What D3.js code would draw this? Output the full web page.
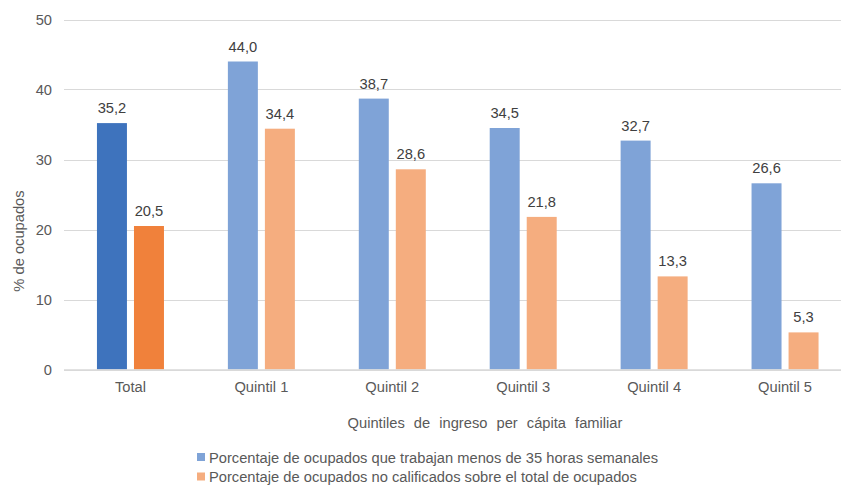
<!DOCTYPE html>
<html><head><meta charset="utf-8">
<script src="https://cdn.jsdelivr.net/npm/d3@7"></script>
<style>body{margin:0;background:#fff;}svg{display:block;font-family:"Liberation Sans",Arial,sans-serif;}</style>
</head><body><svg id="c" width="841" height="485"></svg>
<script>
const categories = ["Total","Quintil 1","Quintil 2","Quintil 3","Quintil 4","Quintil 5"];
const menos35 = [35.2,44.0,38.7,34.5,32.7,26.6];
const noCalif = [20.5,34.4,28.6,21.8,13.3,5.3];
const yTicks = [0,10,20,30,40,50];
const seriesNames = ["Porcentaje de ocupados que trabajan menos de 35 horas semanales","Porcentaje de ocupados no calificados sobre el total de ocupados"];
const colorsTotal = ["#3E73BD","#F0813B"];
const colorsQ = ["#7FA3D7","#F5AD7F"];
const FS = 14.7;

const svg = d3.select("#c");
const x = d3.scaleBand().domain(categories).range([65,850.5]).paddingInner(0).paddingOuter(0);
const y = d3.scaleLinear().domain([0,50]).range([369.5,19.5]);
const sub = d3.scaleBand().domain([0,1]).range([-33.5,33.5]).paddingInner(0.19);

// gridlines
svg.append("g").selectAll("line").data(yTicks).join("line")
  .attr("x1",64).attr("x2",841).attr("y1",d=>Math.round(y(d))+0.5).attr("y2",d=>Math.round(y(d))+0.5)
  .attr("stroke","#D9D9D9").attr("stroke-width",1);
// y tick labels
svg.append("g").selectAll("text").data(yTicks).join("text")
  .attr("x",52).attr("y",d=>y(d)+5).attr("text-anchor","end")
  .attr("font-size",FS).attr("fill","#595959").text(d=>d);

const data = [];
categories.forEach((c,i)=>{
  data.push({c,s:0,v:menos35[i],col:i===0?colorsTotal[0]:colorsQ[0]});
  data.push({c,s:1,v:noCalif[i],col:i===0?colorsTotal[1]:colorsQ[1]});
});
const cx = c => x(c)+x.bandwidth()/2;
svg.append("g").selectAll("rect").data(data).join("rect")
  .attr("x",d=>cx(d.c)+sub(d.s)).attr("width",sub.bandwidth())
  .attr("y",d=>y(d.v)).attr("height",d=>y(0)-y(d.v)).attr("fill",d=>d.col);
svg.append("g").selectAll("text").data(data).join("text")
  .attr("x",d=>cx(d.c)+sub(d.s)+sub.bandwidth()/2).attr("y",d=>y(d.v)-10)
  .attr("text-anchor","middle").attr("font-size",FS).attr("fill","#404040")
  .text(d=>d.v.toFixed(1).replace(".",","));

// baseline axis
svg.append("line").attr("x1",64).attr("x2",841).attr("y1",370).attr("y2",370).attr("stroke","#D9D9D9").attr("stroke-width",1.5);

// category labels
svg.append("g").selectAll("text").data(categories).join("text")
  .attr("x",d=>cx(d)).attr("y",392).attr("text-anchor","middle")
  .attr("font-size",FS).attr("fill","#595959").text(d=>d);

// axis titles
svg.append("text").attr("x",485).attr("y",428).attr("text-anchor","middle")
  .attr("font-size",FS).attr("fill","#595959").attr("word-spacing",5).text("Quintiles de ingreso per cápita familiar");
svg.append("text").attr("transform","translate(24,241) rotate(-90)").attr("text-anchor","middle")
  .attr("font-size",FS).attr("fill","#595959").text("% de ocupados");

// legend
const lg = svg.append("g").selectAll("g").data(seriesNames).join("g")
  .attr("transform",(d,i)=>`translate(197,${453+i*19.5})`);
lg.append("rect").attr("width",8).attr("height",8).attr("fill",(d,i)=>colorsQ[i]);
lg.append("text").attr("x",12).attr("y",9.5).attr("font-size",FS).attr("fill","#595959").text(d=>d);
</script></body></html>
